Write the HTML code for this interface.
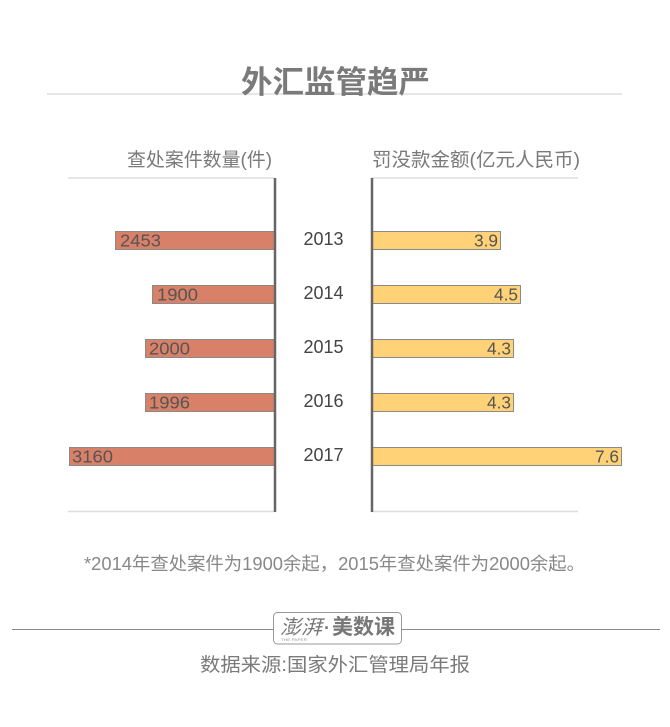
<!DOCTYPE html>
<html>
<head>
<meta charset="utf-8">
<style>
  html,body{margin:0;padding:0;background:#fff;}
  svg{display:block;}
  text{font-family:"Liberation Sans","Noto Sans CJK SC",sans-serif;}
</style>
</head>
<body>
<svg width="670" height="727" viewBox="0 0 670 727" xmlns="http://www.w3.org/2000/svg">
  <rect x="0" y="0" width="670" height="727" fill="#fff"/>

  <!-- Title -->
  <line x1="47" y1="94" x2="622" y2="94" stroke="#dddddd" stroke-width="1.5"/>
  <text x="241" y="93" font-size="31" font-weight="bold" fill="#7a7a7a" textLength="189" lengthAdjust="spacingAndGlyphs">外汇监管趋严</text>

  <!-- Headers -->
  <text x="127" y="166" font-size="19" fill="#7a7a7a" textLength="145" lengthAdjust="spacingAndGlyphs">查处案件数量(件)</text>
  <text x="372" y="166" font-size="19" fill="#7a7a7a" textLength="208" lengthAdjust="spacingAndGlyphs">罚没款金额(亿元人民币)</text>

  <!-- Grid lines -->
  <line x1="68" y1="178" x2="275" y2="178" stroke="#dddddd" stroke-width="1.5"/>
  <line x1="372" y1="178" x2="578" y2="178" stroke="#dddddd" stroke-width="1.5"/>
  <line x1="68" y1="511.5" x2="275" y2="511.5" stroke="#dddddd" stroke-width="1.5"/>
  <line x1="372" y1="511.5" x2="578" y2="511.5" stroke="#dddddd" stroke-width="1.5"/>

  <!-- Left bars -->
  <g fill="#d98068" stroke="#8a8a8a" stroke-width="1">
    <rect x="115.5" y="231.5" width="159.5" height="18"/>
    <rect x="152.5" y="285.5" width="122.5" height="18"/>
    <rect x="145.5" y="339.5" width="129.5" height="18"/>
    <rect x="145.5" y="393.5" width="129.5" height="18"/>
    <rect x="69.5" y="447.5" width="205.5" height="18"/>
  </g>
  <!-- Right bars -->
  <g fill="#ffd277" stroke="#8a8a8a" stroke-width="1">
    <rect x="372" y="231.5" width="128.5" height="18"/>
    <rect x="372" y="285.5" width="148.5" height="18"/>
    <rect x="372" y="339.5" width="141.5" height="18"/>
    <rect x="372" y="393.5" width="141.5" height="18"/>
    <rect x="372" y="447.5" width="249.5" height="18"/>
  </g>

  <!-- Axis lines -->
  <line x1="275" y1="178" x2="275" y2="512" stroke="#666" stroke-width="2.5"/>
  <line x1="372" y1="178" x2="372" y2="512" stroke="#666" stroke-width="2.5"/>

  <!-- Left labels -->
  <g font-size="17.5" fill="#555">
    <text x="120" y="246.5" textLength="41" lengthAdjust="spacingAndGlyphs">2453</text>
    <text x="157" y="300.5" textLength="41" lengthAdjust="spacingAndGlyphs">1900</text>
    <text x="149" y="354.5" textLength="41" lengthAdjust="spacingAndGlyphs">2000</text>
    <text x="149" y="408.5" textLength="41" lengthAdjust="spacingAndGlyphs">1996</text>
    <text x="72" y="462.5" textLength="41" lengthAdjust="spacingAndGlyphs">3160</text>
  </g>
  <!-- Right labels -->
  <g font-size="17.5" fill="#555">
    <text x="474" y="246.5" textLength="24" lengthAdjust="spacingAndGlyphs">3.9</text>
    <text x="494" y="300.5" textLength="24" lengthAdjust="spacingAndGlyphs">4.5</text>
    <text x="487" y="354.5" textLength="24" lengthAdjust="spacingAndGlyphs">4.3</text>
    <text x="487" y="408.5" textLength="24" lengthAdjust="spacingAndGlyphs">4.3</text>
    <text x="595" y="462.5" textLength="24" lengthAdjust="spacingAndGlyphs">7.6</text>
  </g>

  <!-- Years -->
  <g font-size="18" fill="#444" text-anchor="middle">
    <text x="323.5" y="245">2013</text>
    <text x="323.5" y="299">2014</text>
    <text x="323.5" y="353">2015</text>
    <text x="323.5" y="407">2016</text>
    <text x="323.5" y="461">2017</text>
  </g>

  <!-- Footnote -->
  <text x="84" y="570" font-size="18" fill="#888" textLength="501" lengthAdjust="spacingAndGlyphs">*2014年查处案件为1900余起，2015年查处案件为2000余起。</text>

  <!-- Logo line -->
  <line x1="12" y1="629.5" x2="273" y2="629.5" stroke="#8a8a8a" stroke-width="1"/>
  <line x1="402" y1="629.5" x2="660" y2="629.5" stroke="#8a8a8a" stroke-width="1"/>
  <rect x="273.5" y="612.5" width="128" height="31.5" rx="4" ry="4" fill="#fff" stroke="#999" stroke-width="1"/>
  <text x="280" y="634" font-size="20" fill="#777" font-style="italic" font-family="'Noto Serif CJK SC','Liberation Serif',serif" textLength="42" lengthAdjust="spacingAndGlyphs">澎湃</text>
  <text x="281" y="641" font-size="4" fill="#999" textLength="26" lengthAdjust="spacingAndGlyphs">THE PAPER</text>
  <text x="324" y="634" font-size="18" fill="#777" font-weight="bold">·</text>
  <text x="332" y="634" font-size="21" fill="#777" font-weight="bold" textLength="63" lengthAdjust="spacingAndGlyphs">美数课</text>

  <!-- Source -->
  <text x="200" y="671" font-size="19" fill="#7a7a7a" textLength="270" lengthAdjust="spacingAndGlyphs">数据来源:国家外汇管理局年报</text>
</svg>
</body>
</html>
